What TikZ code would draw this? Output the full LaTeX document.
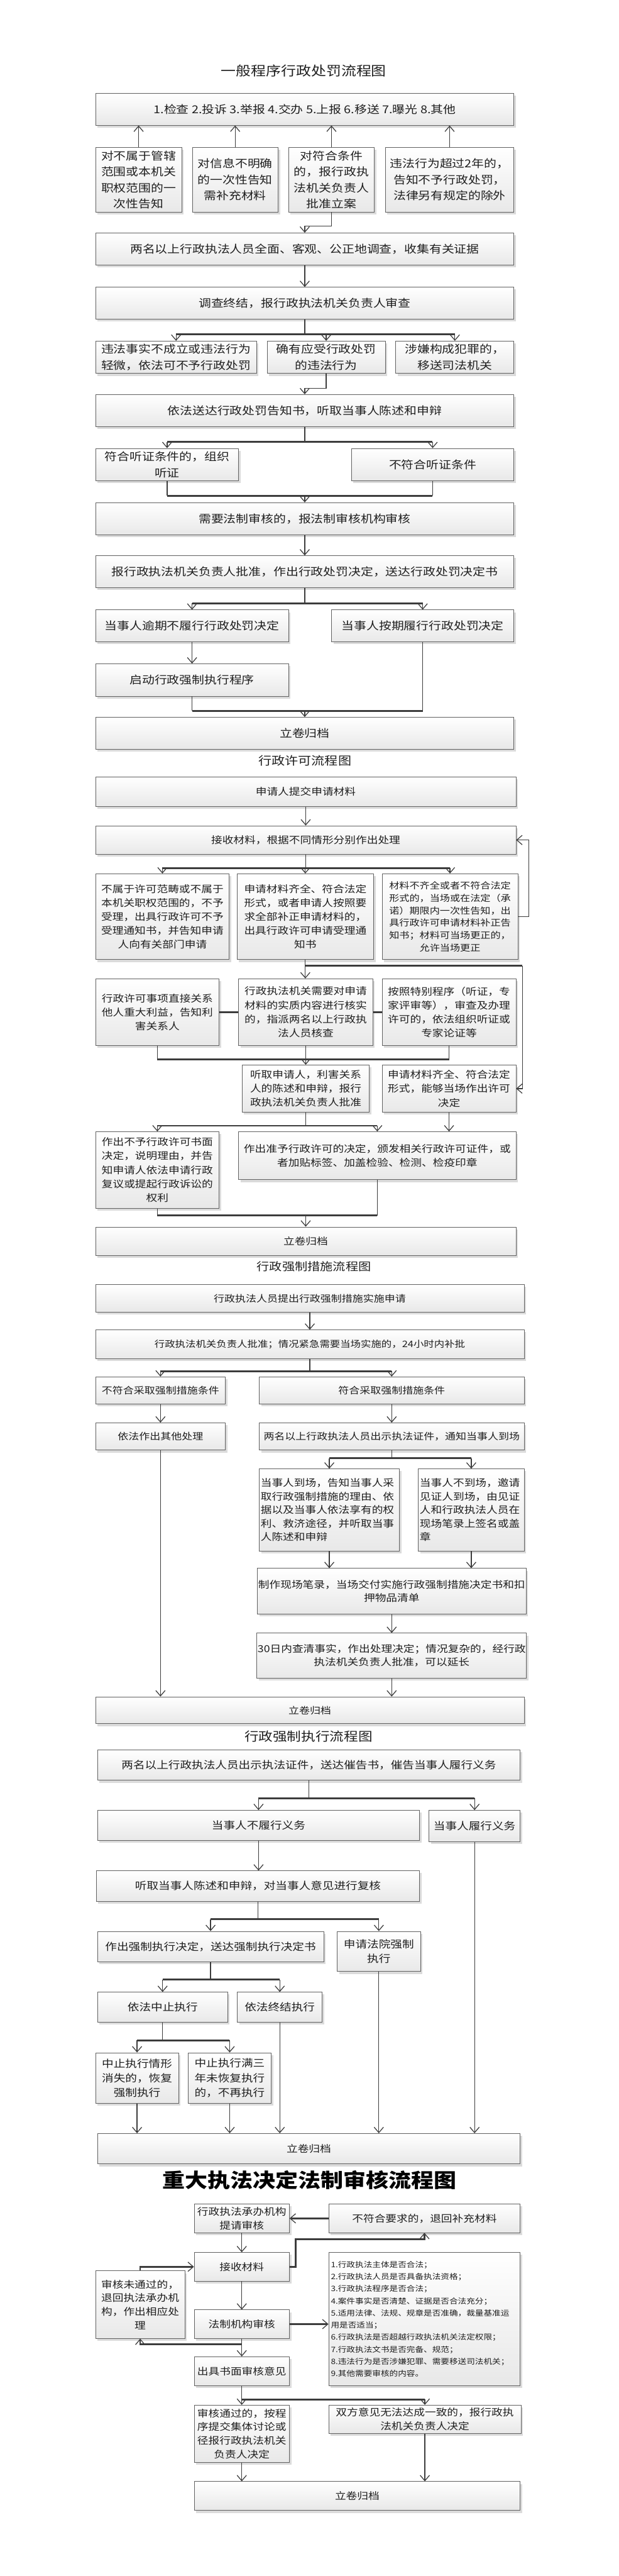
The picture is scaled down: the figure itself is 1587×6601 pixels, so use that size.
\documentclass[tikz,border=0pt]{standalone}
\usepackage{fontspec}
\newfontfamily\cjk{Noto Sans CJK SC}[FakeStretch=1.15]
\usetikzlibrary{arrows.meta,shadows,calc}
\definecolor{lc}{HTML}{3C3C3C}
\tikzset{
  box/.style={draw=black!62, line width=1.3pt, top color=white, bottom color=black!9,
    drop shadow={shadow xshift=5pt, shadow yshift=-6pt, fill=black!14, opacity=1},
    inner sep=2pt, align=center, text=black!88},
  ln/.style={draw=lc, line width=2pt},
  bus/.style={draw=lc, line width=4.5pt},
  arr/.style={ln, -{Straight Barb[length=14pt,width=24pt,line width=2pt]}},
  arrT/.style={bus, -{Straight Barb[length=14pt,width=24pt,line width=2pt]}},
  fA/.style={font=\cjk\fontsize{27.8pt}{41pt}\selectfont},
  fB/.style={font=\cjk\fontsize{24.8pt}{35.7pt}\selectfont},
  fC/.style={font=\cjk\fontsize{22.6pt}{32pt}\selectfont},
  fD/.style={font=\cjk\fontsize{23.8pt}{34.5pt}\selectfont},
  fU/.style={font=\cjk\fontsize{23pt}{34pt}\selectfont},
  fX/.style={font=\cjk\fontsize{24.8pt}{34.5pt}\selectfont},
  fE/.style={font=\cjk\fontsize{26.1pt}{37.5pt}\selectfont},
  fF/.style={font=\cjk\fontsize{24.8pt}{35pt}\selectfont},
  fL/.style={font=\cjk\fontsize{19.1pt}{31pt}\selectfont},
  ttl/.style={font=\cjk\fontsize{#1}{#1}\selectfont, text=black!88, inner sep=0pt},
}
\newcommand\nbox[7]{%
  \pgfmathsetmacro\bw{#4-#2}%
  \pgfmathsetmacro\bh{#5-#3}%
  \pgfmathsetmacro\bcx{(#2+#4)/2}%
  \pgfmathsetmacro\bcy{(#3+#5)/2}%
  \node[box,#6,minimum width=\bw pt,minimum height=\bh pt] (#1) at (\bcx,\bcy) {#7};}
\begin{document}
\begin{tikzpicture}[x=1pt,y=-1pt]
\fill[white] (0,0) rectangle (1587,6601);
\useasboundingbox (0,0) rectangle (1587,6601);

% ================= Section 1 =================
\node[ttl=33.5pt] (t1) at (779,182) {一般程序行政处罚流程图};
\nbox{A}{245}{239}{1318}{321}{fA}{1.检查 2.投诉 3.举报 4.交办 5.上报 6.移送 7.曝光 8.其他}
\nbox{B1}{245}{378}{466}{543}{fA}{对不属于管辖\\范围或本机关\\职权范围的一\\次性告知}
\nbox{B2}{493}{378}{713}{543}{fA}{对信息不明确\\的一次性告知\\需补充材料}
\nbox{B3}{740}{378}{960}{543}{fA}{对符合条件\\的，报行政执\\法机关负责人\\批准立案}
\nbox{B4}{988}{378}{1318}{543}{fA}{违法行为超过2年的，\\告知不予行政处罚，\\法律另有规定的除外}
\nbox{C}{245}{597}{1318}{679}{fA}{两名以上行政执法人员全面、客观、公正地调查，收集有关证据}
\nbox{D}{245}{736}{1318}{818}{fA}{调查终结，报行政执法机关负责人审查}
\nbox{E1}{245}{874}{658}{957}{fA}{违法事实不成立或违法行为\\轻微，依法可不予行政处罚}
\nbox{E2}{685}{874}{988}{957}{fA}{确有应受行政处罚\\的违法行为}
\nbox{E3}{1015}{874}{1318}{957}{fA}{涉嫌构成犯罪的，\\移送司法机关}
\nbox{F}{245}{1011}{1318}{1093}{fA}{依法送达行政处罚告知书，听取当事人陈述和申辩}
\nbox{G1}{245}{1149}{612}{1232}{fA}{符合听证条件的，组织\\听证}
\nbox{G2}{901}{1149}{1318}{1232}{fA}{不符合听证条件}
\nbox{H}{245}{1288}{1318}{1370}{fA}{需要法制审核的，报法制审核机构审核}
\nbox{I}{245}{1424}{1318}{1506}{fA}{报行政执法机关负责人批准，作出行政处罚决定，送达行政处罚决定书}
\nbox{J1}{245}{1563}{740}{1645}{fA}{当事人逾期不履行行政处罚决定}
\nbox{J2}{850}{1563}{1318}{1645}{fA}{当事人按期履行行政处罚决定}
\nbox{K}{245}{1701}{740}{1784}{fA}{启动行政强制执行程序}
\nbox{L}{245}{1838}{1318}{1920}{fA}{立卷归档}

\foreach \n in {B1,B2,B3,B4} \draw[arr] (\n.north) -- (\n.north |- A.south);
\draw[arr] (B3.south) -- ++(0,36) -| (C.north);
\draw[arr] (C.south) -- (D.north);
\draw[ln] (D.south) -- ++(0,38) coordinate (d1);
\draw[bus] (E1.north |- d1) -- (E3.north |- d1);
\foreach \n in {E1,E2,E3} \draw[arr] (\n.north |- d1) -- (\n.north);
\draw[arr] (E2.south) -- ++(0,37) -| (F.north);
\draw[ln] (F.south) -- ++(0,39) coordinate (f1);
\draw[bus] (G1.north |- f1) -- (G2.north |- f1);
\foreach \n in {G1,G2} \draw[arr] (\n.north |- f1) -- (\n.north);
\draw[ln] (G1.south) -- ++(0,38) coordinate (g1);
\draw[ln] (G2.south) -- (G2.south |- g1);
\draw[bus] (g1) -- (G2.south |- g1);
\draw[arr] (H.north |- g1) -- (H.north);
\draw[arr] (H.south) -- (I.north);
\draw[ln] (I.south) -- ++(0,39) coordinate (i1);
\draw[bus] (J1.north |- i1) -- (J2.north |- i1);
\foreach \n in {J1,J2} \draw[arr] (\n.north |- i1) -- (\n.north);
\draw[arr] (J1.south) -- (K.north);
\draw[ln] (K.south) -- ++(0,37) coordinate (k1);
\draw[ln] (J2.south) -- (J2.south |- k1);
\draw[bus] (k1) -- (J2.south |- k1);
\draw[arr] (L.north |- k1) -- (L.north);

% ================= Section 2 =================
\node[ttl=29.6pt] (t2) at (782,1950) {行政许可流程图};
\nbox{M}{245}{1991}{1323}{2067}{fB}{申请人提交申请材料}
\nbox{N}{245}{2116}{1323}{2189}{fB}{接收材料，根据不同情形分别作出处理}
\nbox{P1}{245}{2239}{588}{2459}{fB}{不属于许可范畴或不属于\\本机关职权范围的，不予\\受理，出具行政许可不予\\受理通知书，并告知申请\\人向有关部门申请}
\nbox{P2}{608}{2239}{958}{2459}{fB}{申请材料齐全、符合法定\\形式，或者申请人按照要\\求全部补正申请材料的，\\出具行政许可申请受理通\\知书}
\nbox{P3}{980}{2239}{1328}{2459}{fC}{材料不齐全或者不符合法定\\形式的，当场或在法定（承\\诺）期限内一次性告知，出\\具行政许可申请材料补正告\\知书；材料可当场更正的，\\允许当场更正}
\nbox{Q1}{245}{2508}{562}{2679}{fB}{行政许可事项直接关系\\他人重大利益，告知利\\害关系人}
\nbox{Q2}{612}{2508}{956}{2679}{fB}{行政执法机关需要对申请\\材料的实质内容进行核实\\的，指派两名以上行政执\\法人员核查}
\nbox{Q3}{980}{2508}{1323}{2679}{fB}{按照特别程序（听证，专\\家评审等），审查及办理\\许可的，依法组织听证或\\专家论证等}
\nbox{R1}{621}{2729}{947}{2850}{fB}{听取申请人，利害关系\\人的陈述和申辩，报行\\政执法机关负责人批准}
\nbox{R2}{980}{2729}{1323}{2850}{fB}{申请材料齐全、符合法定\\形式，能够当场作出许可\\决定}
\nbox{S1}{245}{2900}{562}{3096}{fB}{作出不予行政许可书面\\决定，说明理由，并告\\知申请人依法申请行政\\复议或提起行政诉讼的\\权利}
\nbox{S2}{612}{2900}{1323}{3023}{fB}{作出准予行政许可的决定，颁发相关行政许可证件，或\\者加贴标签、加盖检验、检测、检疫印章}
\nbox{T}{245}{3144}{1323}{3217}{fB}{立卷归档}

\draw[arr] (M.south) -- (N.north);
\draw[ln] (N.south) -- ++(0,35) coordinate (n1);
\draw[bus] (P1.north |- n1) -- (P3.north |- n1);
\foreach \n in {P1,P2,P3} \draw[arr] (\n.north |- n1) -- (\n.north);
\draw[arr] (P3.east) -- ++(28,0) |- (N.east);
\draw[arr] (P2.south) -- (P2.south |- Q2.north);
\coordinate (p2) at ($(P2.south)+(0,15)$);
\draw[bus] (p2) -- ++(557,0) coordinate (p2r);
\draw[arr] (p2r) |- (R2.east);
\draw[bus] (Q1.east) -- (Q2.west);
\draw[bus] (Q2.east) -- (Q3.west);
\draw[ln] (Q1.south) -- ++(0,35) coordinate (q1);
\draw[ln] (Q2.south) -- (Q2.south |- q1);
\draw[ln] (Q3.south) -- (Q3.south |- q1);
\draw[bus] (q1) -- (Q3.south |- q1);
\draw[arr] (R1.north |- q1) -- (R1.north);
\draw[ln] (R1.south) -- ++(0,34) coordinate (r1);
\draw[bus] (S1.north |- r1) -- (S2.north |- r1);
\foreach \n in {S1,S2} \draw[arr] (\n.north |- r1) -- (\n.north);
\draw[arr] (R2.south) -- (R2.south |- S2.north);
\draw[ln] (S1.south) -- ++(0,18) coordinate (s1);
\draw[ln] (S2.south) -- (S2.south |- s1);
\draw[bus] (s1) -- (S2.south |- s1);
\draw[arr] (T.north |- s1) -- (T.north);

% ================= Section 3 =================
\node[ttl=28.3pt] (t3) at (805,3246) {行政强制措施流程图};
\nbox{U1}{245}{3292}{1344}{3362}{fD}{行政执法人员提出行政强制措施实施申请}
\nbox{U2}{245}{3408}{1344}{3482}{fU}{行政执法机关负责人批准；情况紧急需要当场实施的，24小时内补批}
\nbox{V1}{245}{3528}{578}{3598}{fD}{不符合采取强制措施条件}
\nbox{V2}{665}{3528}{1344}{3598}{fD}{符合采取强制措施条件}
\nbox{W1}{245}{3646}{578}{3716}{fD}{依法作出其他处理}
\nbox{W2}{665}{3646}{1344}{3716}{fD}{两名以上行政执法人员出示执法证件，通知当事人到场}
\nbox{X1}{665}{3764}{1024}{3974}{fX,align=left,text width=352pt}{当事人到场，告知当事人采\\取行政强制措施的理由、依\\据以及当事人依法享有的权\\利、救济途径，并听取当事\\人陈述和申辩}
\nbox{X2}{1073}{3764}{1344}{3974}{fX,align=left,text width=264pt}{当事人不到场，邀请\\见证人到场，由见证\\人和行政执法人员在\\现场笔录上签名或盖\\章}
\nbox{Y}{665}{4019}{1344}{4136}{fX}{制作现场笔录，当场交付实施行政强制措施决定书和扣\\押物品清单}
\nbox{Z1}{665}{4185}{1344}{4300}{fX}{30日内查清事实，作出处理决定；情况复杂的，经行政\\执法机关负责人批准，可以延长}
\nbox{AA}{245}{4348}{1344}{4417}{fD}{立卷归档}

\draw[arr] (U1.south) -- (U2.north);
\draw[ln] (U2.south) -- ++(0,31) coordinate (u1);
\draw[bus] (V1.north |- u1) -- (V2.north |- u1);
\foreach \n in {V1,V2} \draw[arr] (\n.north |- u1) -- (\n.north);
\draw[arr] (V1.south) -- (W1.north);
\draw[arr] (V2.south) -- (W2.north);
\draw[ln] (W2.south) -- ++(0,20) coordinate (w1);
\draw[bus] (X1.north |- w1) -- (X2.north |- w1);
\foreach \n in {X1,X2} \draw[arr] (\n.north |- w1) -- (\n.north);
\draw[arr] (X1.south) -- (X1.south |- Y.north);
\draw[arr] (X2.south) -- (X2.south |- Y.north);
\draw[arr] (Y.south) -- (Z1.north);
\draw[arr] (W1.south) -- (W1.south |- AA.north);
\draw[arr] (Z1.south) -- (Z1.south |- AA.north);

% ================= Section 4 =================
\node[ttl=31.7pt] (t4) at (791,4449) {行政强制执行流程图};
\nbox{AB}{250}{4484}{1334}{4562}{fE}{两名以上行政执法人员出示执法证件，送达催告书，催告当事人履行义务}
\nbox{AC1}{250}{4639}{1076}{4716}{fE}{当事人不履行义务}
\nbox{AC2}{1100}{4639}{1334}{4719}{fE}{当事人履行义务}
\nbox{AD}{247}{4794}{1076}{4872}{fE}{听取当事人陈述和申辩，对当事人意见进行复核}
\nbox{AE1}{250}{4949}{830}{5027}{fE}{作出强制执行决定，送达强制执行决定书}
\nbox{AE2}{865}{4949}{1078}{5052}{fE}{申请法院强制\\执行}
\nbox{AF1}{250}{5105}{584}{5182}{fE}{依法中止执行}
\nbox{AF2}{609}{5105}{826}{5182}{fE}{依法终结执行}
\nbox{AG1}{245}{5260}{458}{5390}{fE}{中止执行情形\\消失的，恢复\\强制执行}
\nbox{AG2}{482}{5260}{696}{5390}{fE}{中止执行满三\\年未恢复执行\\的，不再执行}
\nbox{AH}{250}{5467}{1334}{5545}{fF}{立卷归档}

\draw[ln] (AB.south) -- ++(0,45) coordinate (ab1);
\draw[bus] (AC1.north |- ab1) -- (AC2.north |- ab1);
\foreach \n in {AC1,AC2} \draw[arr] (\n.north |- ab1) -- (\n.north);
\draw[arr] (AC1.south) -- (AC1.south |- AD.north);
\draw[ln] (AD.south) -- ++(0,45) coordinate (ad1);
\draw[bus] (AE1.north |- ad1) -- (AE2.north |- ad1);
\foreach \n in {AE1,AE2} \draw[arr] (\n.north |- ad1) -- (\n.north);
\draw[ln] (AE1.south) -- ++(0,45) coordinate (ae1);
\draw[bus] (AF1.north |- ae1) -- (AF2.north |- ae1);
\foreach \n in {AF1,AF2} \draw[arr] (\n.north |- ae1) -- (\n.north);
\draw[ln] (AF1.south) -- ++(0,46) coordinate (af1);
\draw[bus] (AG1.north |- af1) -- (AG2.north |- af1);
\foreach \n in {AG1,AG2} \draw[arr] (\n.north |- af1) -- (\n.north);
\foreach \n in {AG1,AG2,AF2,AE2,AC2} \draw[arr] (\n.south) -- (\n.south |- AH.north);

% ================= Section 5 =================
\node[ttl=50.4pt, font=\cjk\bfseries\fontsize{50.4pt}{55pt}\selectfont, text=black] (t5) at (794,5587) {重大执法决定法制审核流程图};
\nbox{BA}{498}{5648}{742}{5721}{fF}{行政执法承办机构\\提请审核}
\nbox{BB}{843}{5648}{1334}{5721}{fF}{不符合要求的，退回补充材料}
\nbox{BC}{498}{5772}{742}{5845}{fF}{接收材料}
\nbox{BD}{245}{5819}{474}{5992}{fF}{审核未通过的，\\退回执法承办机\\构，作出相应处\\理}
\nbox{BE}{498}{5919}{742}{5992}{fF}{法制机构审核}
\nbox{BF}{843}{5772}{1334}{6113}{fL,align=left,text width=480pt}{1.行政执法主体是否合法；\\2.行政执法人员是否具备执法资格；\\3.行政执法程序是否合法；\\4.案件事实是否清楚、证据是否合法充分；\\5.适用法律、法规、规章是否准确，裁量基准运\\用是否适当；\\6.行政执法是否超越行政执法机关法定权限；\\7.行政执法文书是否完备、规范；\\8.违法行为是否涉嫌犯罪、需要移送司法机关；\\9.其他需要审核的内容。}
\nbox{BG}{498}{6039}{742}{6113}{fF}{出具书面审核意见}
\nbox{BH1}{498}{6163}{742}{6310}{fF}{审核通过的，按程\\序提交集体讨论或\\径报行政执法机关\\负责人决定}
\nbox{BH2}{843}{6163}{1336}{6236}{fF}{双方意见无法达成一致的，报行政执\\法机关负责人决定}
\nbox{BI}{498}{6359}{1334}{6433}{fF}{立卷归档}

\draw[arrT] (BB.west) -- (BA.east);
\draw[arr] (BA.south) -- (BC.north);
\draw[arrT] (BC.east) -- ++(15,0) -- ++(0,-71) -| (BB.south);
\draw[arrT] (BD.north) |- (BC.west);
\draw[arr] (BC.south) -- (BE.north);
\draw[arrT] (BE.east) -- (BE.east -| BF.west);
\draw[arr] (BE.south) -- (BG.north);
\path (BE.south) ++(0,15) coordinate (be1);
\draw[arrT] (be1) -| (BD.south);
\draw[ln] (BG.south) -- ++(0,35) coordinate (bg1);
\draw[bus] (bg1) -- (BH2.north |- bg1);
\draw[arr] (bg1) -- (BH1.north);
\draw[arr] (BH2.north |- bg1) -- (BH2.north);
\draw[arr] (BH1.south) -- (BH1.south |- BI.north);
\draw[arr] (BH2.south) -- (BH2.south |- BI.north);
\end{tikzpicture}
\end{document}
